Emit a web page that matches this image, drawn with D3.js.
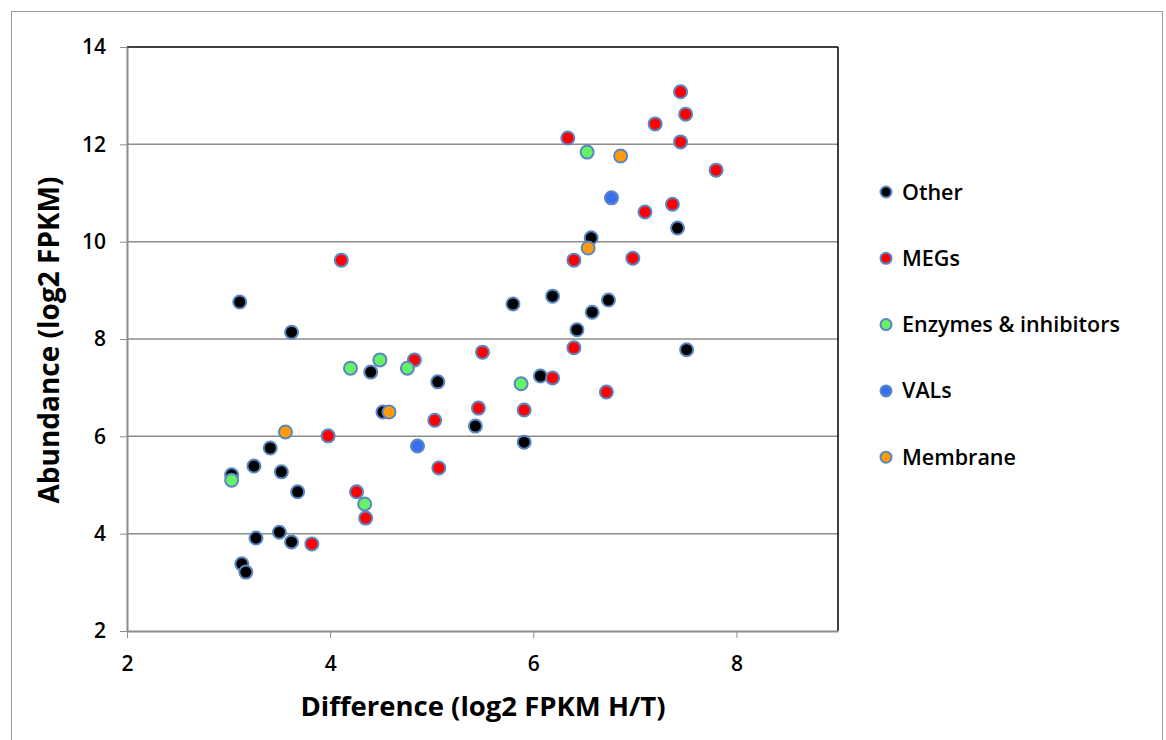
<!DOCTYPE html>
<html lang="en">
<head>
<meta charset="UTF-8">
<script src="https://d3js.org/d3.v7.min.js"></script>
<style>
body {margin: 0; background: white;}
svg {display: block;}
text {font-family: "Open Sans", Lato, sans-serif;}
.tick text {font-size: 21px; font-weight: 600; fill: #000;}
.tick line {stroke: #8c8c8c;}
.domain {stroke: #8c8c8c;}
</style>
</head>
<body>
<svg width="1166" height="740"></svg>
<script>
// [difference, abundance]
var other = [[3.11,8.76],[3.62,8.14],[3.41,5.76],[3.25,5.39],[3.03,5.21],[3.52,5.27],[3.68,4.86],
  [3.27,3.91],[3.50,4.03],[3.62,3.83],[3.13,3.38],[3.17,3.21],[4.40,7.32],[4.52,6.50],[5.06,7.12],
  [5.43,6.21],[5.80,8.72],[6.19,8.88],[6.74,8.80],[6.58,8.55],[6.43,8.19],[7.51,7.78],[6.07,7.24],
  [5.91,5.88],[6.57,10.08],[7.42,10.28]];
var megs = [[4.11,9.62],[3.98,6.01],[4.26,4.86],[4.35,4.32],[3.82,3.79],[4.83,7.57],[5.50,7.73],
  [5.46,6.58],[5.03,6.33],[5.07,5.35],[5.91,6.54],[6.19,7.20],[6.40,7.82],[6.72,6.91],[6.40,9.62],
  [6.98,9.66],[6.34,12.13],[7.45,13.08],[7.50,12.62],[7.20,12.42],[7.45,12.05],[7.80,11.47],
  [7.37,10.77],[7.10,10.61]];
var enzymes = [[3.03,5.10],[4.20,7.40],[4.49,7.57],[4.76,7.40],[4.34,4.61],[5.88,7.08],[6.53,11.84]];
var vals = [[4.86,5.80],[6.77,10.90]];
var membrane = [[3.56,6.09],[4.58,6.50],[6.54,9.87],[6.86,11.76]];

var seriesNames = ["Other", "MEGs", "Enzymes & inhibitors", "VALs", "Membrane"];
var seriesData = [other, megs, enzymes, vals, membrane];
var colors = ["#000000", "#ff0000", "#66f266", "#3a6ef0", "#ff9a0a"];
var xTicks = [2, 4, 6, 8];
var yTicks = [2, 4, 6, 8, 10, 12, 14];

var svg = d3.select("svg");
var x = d3.scaleLinear().domain([2, 9]).range([127, 838]);
var y = d3.scaleLinear().domain([2, 14]).range([631, 47]);

// outer frame
svg.append("rect").attr("x", 11.5).attr("y", 11.5).attr("width", 1151).attr("height", 740)
  .attr("fill", "none").attr("stroke", "#9a9a9a");

// grid
svg.append("g").selectAll("line").data(yTicks.slice(1, -1)).enter().append("line")
  .attr("x1", x(2)).attr("x2", x(9)).attr("y1", function(d) {return y(d);}).attr("y2", function(d) {return y(d);})
  .attr("stroke", "#8c8c8c").attr("stroke-width", 1.5);

// top and right borders
svg.append("line").attr("x1", x(2)).attr("x2", x(9)).attr("y1", y(14)).attr("y2", y(14))
  .attr("stroke", "#000").attr("stroke-width", 1.5);
svg.append("line").attr("x1", x(9)).attr("x2", x(9)).attr("y1", y(14)).attr("y2", y(2))
  .attr("stroke", "#000").attr("stroke-width", 1.5);

var yAxis = svg.append("g").attr("transform", "translate(" + x(2) + ",0)")
  .call(d3.axisLeft(y).tickValues(yTicks).tickFormat(d3.format("d")).tickSize(7).tickPadding(14).tickSizeOuter(0));
yAxis.select(".domain").attr("stroke-width", 2);

var xAxis = svg.append("g").attr("transform", "translate(0," + y(2) + ")")
  .call(d3.axisBottom(x).tickValues(xTicks).tickFormat(d3.format("d")).tickSize(7).tickPadding(18).tickSizeOuter(0));
xAxis.select(".domain").attr("stroke-width", 2);

// points
seriesData.forEach(function(data, i) {
  svg.append("g").selectAll("circle").data(data).enter().append("circle")
    .attr("cx", function(d) {return x(d[0]);})
    .attr("cy", function(d) {return y(d[1]);})
    .attr("r", 6.5)
    .attr("fill", colors[i])
    .attr("stroke", "#5a86c2")
    .attr("stroke-width", 2);
});

// axis titles
svg.append("text").attr("x", 483).attr("y", 716)
  .attr("text-anchor", "middle").attr("font-size", 27.5).attr("font-weight", "bold")
  .text("Difference (log2 FPKM H/T)");
svg.append("text").attr("transform", "translate(59,340) rotate(-90)")
  .attr("text-anchor", "middle").attr("font-size", 28).attr("font-weight", "bold")
  .text("Abundance (log2 FPKM)");

// legend
var legend = svg.append("g").selectAll("g").data(seriesNames).enter().append("g")
  .attr("transform", function(d, i) {return "translate(886," + (192 + i * 66.3) + ")";});
legend.append("circle").attr("r", 5.5).attr("fill", function(d, i) {return colors[i];})
  .attr("stroke", "#5a86c2").attr("stroke-width", 2);
legend.append("text").attr("x", 16).attr("y", 7.5).attr("font-size", 21.5).attr("font-weight", 600)
  .text(function(d) {return d;});
</script>
</body>
</html>
